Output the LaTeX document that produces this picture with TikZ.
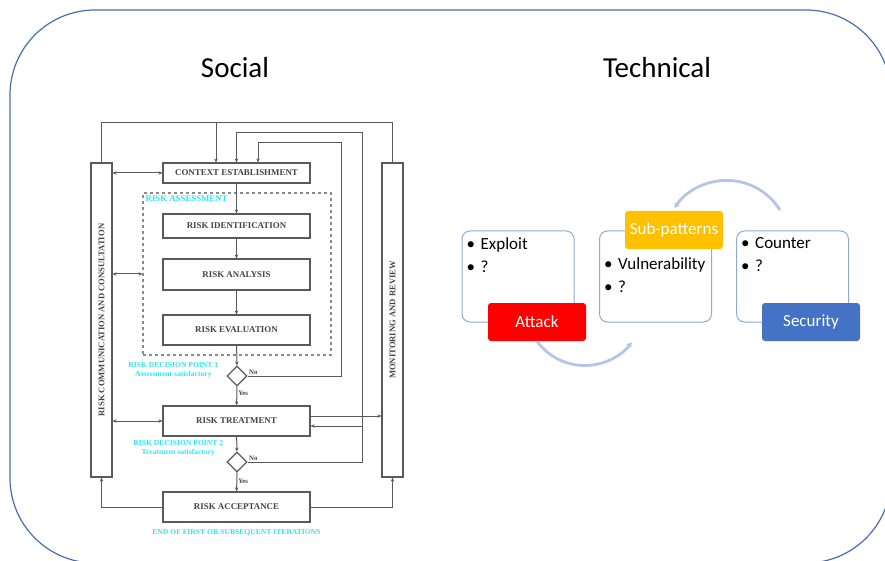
\documentclass[tikz,border=0pt]{standalone}
\usepackage{fontspec}
\setmainfont{Carlito}
\newfontfamily\flowfont{Liberation Serif}
\usepackage{xcolor}
\usetikzlibrary{arrows.meta, shapes.geometric}
\definecolor{FrameBlue}{HTML}{4A6DB0}
\definecolor{FlowGray}{HTML}{5A5A5A}
\definecolor{FlowText}{HTML}{444444}
\definecolor{DashGray}{HTML}{8A8A8A}
\definecolor{RiskCyan}{HTML}{2EE6F2}
\definecolor{PatFrame}{HTML}{8FAADC}
\definecolor{PatRed}{HTML}{FF0000}
\definecolor{PatGold}{HTML}{FFC000}
\definecolor{PatBlue}{HTML}{4472C4}
\definecolor{CycleBlue}{HTML}{B4C5E7}
\newcommand{\patitem}[1]{\makebox[14pt][l]{\textbullet}#1}
\tikzset{
  frameline/.style={draw=FrameBlue, line width=1.2pt, rounded corners=85pt},
  titletext/.style={font=\fontsize{29}{34}\selectfont, inner sep=0pt},
  flowbox/.style={draw=FlowGray, line width=1.2pt, fill=white, rectangle,
                  minimum width=147pt, inner sep=0pt, text=FlowText,
                  font=\flowfont\bfseries\fontsize{8.9}{10}\selectfont},
  flowbar/.style={draw=FlowGray, line width=1.2pt, fill=white, rectangle,
                  minimum width=21pt, minimum height=314pt, inner sep=0pt},
  bartext/.style={text=FlowText, inner sep=0pt,
                  font=\flowfont\bfseries\fontsize{8.6}{10}\selectfont},
  flowdec/.style={draw=FlowGray, line width=1.2pt, fill=white, diamond,
                  minimum size=20pt, inner sep=0pt},
  assessbox/.style={draw=DashGray, line width=1.1pt, dashed, rectangle,
                    minimum width=188pt, minimum height=162pt, inner sep=0pt},
  cynote/.style={text=RiskCyan, align=center, inner sep=1pt,
                 font=\flowfont\bfseries\fontsize{7.6}{9}\selectfont},
  noyes/.style={text=FlowText, inner sep=1pt,
                font=\flowfont\bfseries\fontsize{6.8}{8}\selectfont},
  flowline/.style={draw=FlowGray, line width=1pt},
  flowarr/.style={flowline, -{Stealth[length=4pt, width=3.5pt]}},
  flowdarr/.style={flowline, {Stealth[length=4pt, width=3.5pt]}-{Stealth[length=4pt, width=3.5pt]}},
  patbox/.style={draw=PatFrame, line width=1pt, fill=white, rectangle,
                 rounded corners=8pt, minimum width=112pt, minimum height=91pt},
  pattext/.style={font=\fontsize{17}{23}\selectfont, align=left,
                  anchor=north west, inner sep=0pt},
  pattag/.style={rectangle, rounded corners=3pt, minimum width=98pt,
                 minimum height=38pt, text=white, inner sep=0pt,
                 font=\fontsize{17}{20}\selectfont},
  cycarrow/.style={draw=CycleBlue, line width=2.8pt,
                   -{Latex[length=5pt, width=6.5pt]}}
}

\begin{document}
\begin{tikzpicture}[x=1pt, y=1pt]
  \useasboundingbox (0,0) rectangle (885,560);
  \clip (0,0) rectangle (885,560);
  \draw[frameline] (10,-3) rectangle (891,550);

  \node[titletext] (social)    at (235,492) {Social};
  \node[titletext] (technical) at (657,492) {Technical};

  % risk management process
  \node[assessbox] (assess) at (237,286) {};
  \node[cynote, anchor=north west, font=\flowfont\bfseries\fontsize{8.8}{10}\selectfont]
    (assesslabel) at ([shift={(2pt,-2pt)}]assess.north west) {RISK ASSESSMENT};

  \node[flowbar] (commbar) at (101.5,240) {};
  \node[flowbar] (monbar)  at (392.5,240) {};
  \node[bartext, rotate=90] (commtext) at (commbar) {RISK COMMUNICATION AND CONSULTATION};
  \node[bartext, rotate=90] (montext)  at (monbar)  {MONITORING AND REVIEW};

  \node[flowbox, minimum height=20pt] (context)    at (236.5,387)   {CONTEXT ESTABLISHMENT};
  \node[flowbox, minimum height=24pt] (ident)      at (236.5,334)   {RISK IDENTIFICATION};
  \node[flowbox, minimum height=31pt] (analysis)   at (236.5,285.5) {RISK ANALYSIS};
  \node[flowbox, minimum height=30pt] (evaluation) at (236.5,230)   {RISK EVALUATION};
  \node[flowdec]                      (dec1)       at (237,184)     {};
  \node[flowbox, minimum height=30pt] (treatment)  at (236.5,139)   {RISK TREATMENT};
  \node[flowdec]                      (dec2)       at (237,98)      {};
  \node[flowbox, minimum height=30pt] (acceptance) at (236.5,53)    {RISK ACCEPTANCE};

  \node[cynote, anchor=east] (dec1note) at ([shift={(-7pt,5.5pt)}]dec1.west)
    {RISK DECISION POINT 1\\Assessment satisfactory};
  \node[cynote, anchor=east] (dec2note) at ([shift={(-2pt,13.5pt)}]dec2.west)
    {RISK DECISION POINT 2\\Treatment satisfactory};
  \node[cynote] (endnote) at ([yshift=-10pt]acceptance.south)
    {END OF FIRST OR SUBSEQUENT ITERATIONS};

  \coordinate (topL)  at (101.5,437);
  \coordinate (loopB) at (362,427);
  \coordinate (loopC) at (341,417);

  \draw[flowarr] (context)    -- (ident);
  \draw[flowarr] (ident)      -- (analysis);
  \draw[flowarr] (analysis)   -- (evaluation);
  \draw[flowarr] (evaluation) -- (dec1);
  \draw[flowarr] (dec1) -- node[noyes, right, pos=0.35] {Yes} (treatment);
  \draw[flowarr] (treatment)  -- (dec2);
  \draw[flowarr] (dec2) -- node[noyes, right, pos=0.45] {Yes} (acceptance);

  \draw[flowline] (commbar.north) -- (topL) -| (monbar.north);
  \draw[flowarr] ([xshift=-20.5pt]context.north |- topL) -- ([xshift=-20.5pt]context.north);
  \draw[flowarr] (dec2.east) node[noyes, anchor=south west] {No} -| (loopB) -| (context.north);
  \draw[flowarr] (dec1.east) node[noyes, anchor=south west] {No} -| (loopC) -| ([xshift=21.5pt]context.north);
  \draw[flowarr] ([yshift=-5pt]treatment.east -| loopB) -- ([yshift=-5pt]treatment.east);
  \draw[flowarr] ([yshift=5pt]treatment.east) -- ([yshift=5pt]treatment.east -| monbar.west);

  \draw[flowdarr] (context.west -| commbar.east)   -- (context.west);
  \draw[flowdarr] (assess.west -| commbar.east)    -- (assess.west);
  \draw[flowdarr] (treatment.west -| commbar.east) -- (treatment.west);
  \draw[flowarr] (acceptance.west) -| (commbar.south);
  \draw[flowarr] (acceptance.east) -| (monbar.south);

  % attack patterns
  \node[patbox] (attackbox)   at (518,283.5)   {};
  \node[patbox] (vulnbox)     at (655.5,283.5) {};
  \node[patbox] (securitybox) at (792.5,283.5) {};
  \node[pattext] (attacklist)   at ([shift={(5pt,-7pt)}]attackbox.north west)   {\patitem{Exploit}\\\patitem{?}};
  \node[pattext] (vulnlist)     at ([shift={(5pt,-27pt)}]vulnbox.north west)    {\patitem{Vulnerability}\\\patitem{?}};
  \node[pattext] (securitylist) at ([shift={(5pt,-7pt)}]securitybox.north west) {\patitem{Counter}\\\patitem{?}};

  \node[pattag, fill=PatRed]  (attack)   at (537,238) {Attack};
  \node[pattag, fill=PatGold] (sub)      at (674,330) {Sub-patterns};
  \node[pattag, fill=PatBlue] (security) at (811,238) {Security};

  \coordinate (cycstart) at (780,350);
  \draw[cycarrow] (attack.south) arc[start angle=216, end angle=323, radius=59pt];
  \draw[cycarrow] (cycstart) arc[start angle=32, end angle=146, radius=63pt];
\end{tikzpicture}
\end{document}
